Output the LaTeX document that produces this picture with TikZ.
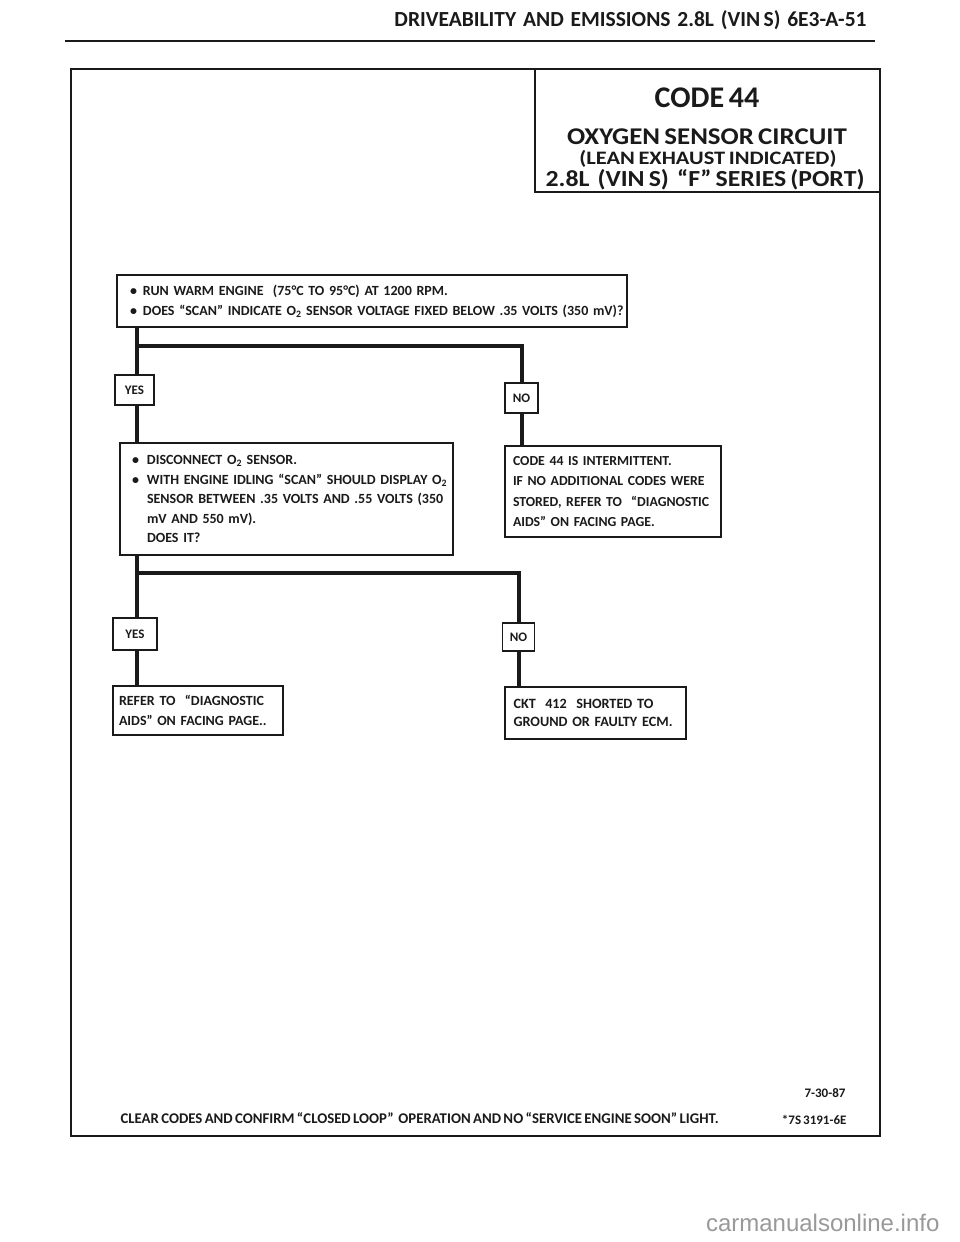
\documentclass[tikz,border=0pt]{standalone}
\usepackage{fontspec}
\setmainfont{Carlito}[WordSpace=0.7]
\newfontfamily\wmfont{Liberation Sans}
\definecolor{ink}{HTML}{1A1A1A}
\definecolor{wmgray}{HTML}{999999}
\begin{document}
\begin{tikzpicture}[x=1pt,y=-1pt,
  every node/.style={text=ink, font=\bfseries},
  box/.style={draw=ink, line width=1.2pt, inner sep=0pt, align=left},
  lbl/.style={draw=ink, line width=1.2pt, inner sep=0pt, fill=white, font=\fontsize{13}{15}\selectfont\bfseries},
  conn/.style={draw=ink, line width=3.5pt},
  frame/.style={draw=ink, line width=2.4pt},
  bodytxt/.style={font=\fontsize{14}{20}\selectfont\bfseries}
]
\fill[white] (0,0) rectangle (960,1242);
\useasboundingbox (0,0) rectangle (960,1242);

% header
\node[font=\fontsize{21.5}{25}\selectfont\bfseries, anchor=base east] (hdr) at (870,27) {DRIVEABILITY\ \ AND\ \ EMISSIONS\ \ 2.8L\ \ (VIN S)\ \ 6E3-A-51};
\draw[ink, line width=1.6pt] (65,41) -- (875,41);

% outer frame
\draw[frame] (71,69) rectangle (880,1136);

% title box
\node[minimum width=345, minimum height=123, inner sep=0pt] (title) at (707.5,130.5) {};
\draw[ink, line width=2pt] (title.north west) -- (title.south west) -- (title.south east);
\node[font=\fontsize{30}{32}\selectfont\bfseries] (t1) at (707,98) {CODE 44};
\node[font=\fontsize{24}{26}\selectfont\bfseries, inner sep=0pt] (t2) at (707,137) {\scalebox{1.12}[1]{OXYGEN SENSOR CIRCUIT}};
\node[font=\fontsize{19}{21}\selectfont\bfseries, inner sep=0pt] (t3) at (708,159) {\scalebox{1.18}[1]{(LEAN EXHAUST INDICATED)}};
\node[font=\fontsize{23}{25}\selectfont\bfseries, inner sep=0pt] (t4) at (705,180) {\scalebox{1.12}[1]{2.8L\ \ (VIN S)\ \ “F” SERIES (PORT)}};

% box 1
\node[box, bodytxt, minimum width=510, minimum height=52, text width=484] (b1) at (372,301)
  {\mbox{\makebox[13pt][l]{\textbullet}RUN WARM ENGINE\ \ (75°C TO 95°C) AT 1200 RPM.}\\
   \mbox{\makebox[13pt][l]{\textbullet}DOES “SCAN” INDICATE O\textsubscript{2} SENSOR VOLTAGE FIXED BELOW .35 VOLTS (350 mV)?}};

% box 2
\node[box, font=\fontsize{14}{19.5}\selectfont\bfseries, minimum width=333, minimum height=112, text width=309] (b2) at (286.5,499)
  {\mbox{\makebox[15pt][l]{\textbullet}DISCONNECT O\textsubscript{2} SENSOR.}\\
   \mbox{\makebox[15pt][l]{\textbullet}WITH ENGINE IDLING “SCAN” SHOULD DISPLAY O\textsubscript{2}}\\
   \mbox{\hspace*{15pt}SENSOR BETWEEN .35 VOLTS AND .55 VOLTS (350}\\
   \mbox{\hspace*{15pt}mV AND 550 mV).}\\
   \mbox{\hspace*{15pt}DOES IT?}};

% code 44 intermittent box
\node[box, font=\fontsize{13.8}{20.5}\selectfont\bfseries, minimum width=216, minimum height=91, text width=200] (b3) at (613,491.5)
  {\mbox{CODE 44 IS INTERMITTENT.}\\
   \mbox{IF NO ADDITIONAL CODES WERE}\\
   \mbox{STORED, REFER TO\ \ “DIAGNOSTIC}\\
   \mbox{AIDS” ON FACING PAGE.}};

% box 4 (refer)
\node[box, bodytxt, minimum width=170, minimum height=49, text width=158] (b4) at (198,710.5)
  {\mbox{REFER TO\ \ “DIAGNOSTIC}\\\mbox{AIDS” ON FACING PAGE..}};

% box 5 (ckt)
\node[box, font=\fontsize{14.2}{18.5}\selectfont\bfseries, minimum width=181, minimum height=52, text width=164] (b5) at (595.5,713)
  {\mbox{CKT\ \ 412\ \ SHORTED TO}\\\mbox{GROUND OR FAULTY ECM.}};

% junctions
\coordinate (j1) at (137,346);
\coordinate (k1) at (522,346);
\coordinate (j2) at (137,573);
\coordinate (k2) at (519,573);

% connectors
\draw[conn] (b1.south -| j1) -- (b2.north -| j1);
\draw[conn, line join=miter] (j1) -- (k1) -- (b3.north -| k1);
\draw[conn] (b2.south -| j2) -- (b4.north -| j2);
\draw[conn, line join=miter] (j2) -- (k2) -- (b5.north -| k2);

% labels
\node[lbl, minimum width=39, minimum height=30] (y1) at (134.5,390) {YES};
\node[lbl, minimum width=33, minimum height=30] (n1) at (521.5,398) {NO};
\node[lbl, minimum width=44, minimum height=32] (y2) at (135,634) {YES};
\node[lbl, minimum width=32, minimum height=28] (n2) at (518.5,637) {NO};

% footer
\node[font=\fontsize{14.8}{16}\selectfont\bfseries, anchor=base west] (f1) at (117,1123) {CLEAR CODES AND CONFIRM “CLOSED LOOP”\ \ OPERATION AND NO “SERVICE ENGINE SOON” LIGHT.};
\node[font=\fontsize{13}{15}\selectfont\bfseries, anchor=base east] (f2) at (849,1097) {7-30-87};
\node[font=\fontsize{13}{15}\selectfont\bfseries, anchor=base east] (f3) at (850,1124) {*7S 3191-6E};

% watermark
\node[font=\wmfont\fontsize{24}{26}\selectfont, text=wmgray, anchor=base east] (wm) at (943,1231) {carmanualsonline.info};
\end{tikzpicture}
\end{document}
